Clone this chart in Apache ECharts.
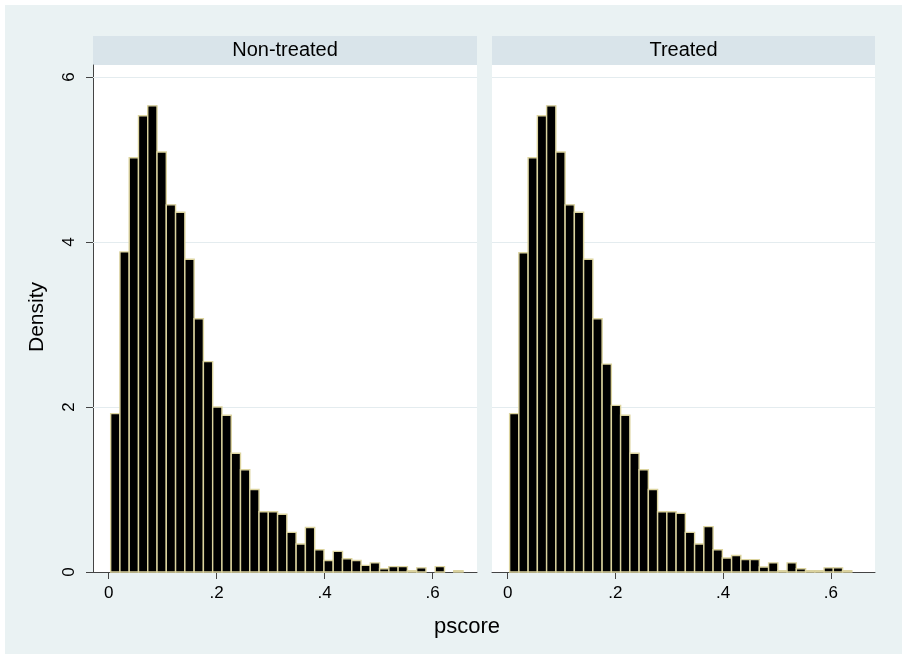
<!DOCTYPE html>
<html>
<head>
<meta charset="utf-8">
<script src="https://cdn.jsdelivr.net/npm/echarts@6/dist/echarts.min.js"></script>
<style>
  html, body { margin: 0; padding: 0; background: #ffffff; }
  #chart { width: 907px; height: 659px; }
</style>
</head>
<body>
<div id="chart"></div>
<script>
// Panel titles (one histogram per treatment group)
const panelTitles = ['Non-treated', 'Treated'];

// Histogram bins: common start and width on the pscore scale
const binStart = 0.0037;
const binWidth = 0.01717;

// Density per bin, Non-treated group
const densityNonTreated = [
  1.92, 3.88, 5.02, 5.53, 5.65, 5.09, 4.45, 4.36, 3.79, 3.07,
  2.55, 2.00, 1.90, 1.44, 1.24, 1.00, 0.73, 0.73, 0.70, 0.48,
  0.34, 0.54, 0.27, 0.14, 0.25, 0.16, 0.14, 0.08, 0.11, 0.04,
  0.065, 0.065, 0.015, 0.05, 0, 0.065, 0, 0.015
];

// Density per bin, Treated group
const densityTreated = [
  1.92, 3.87, 5.02, 5.53, 5.65, 5.09, 4.45, 4.36, 3.79, 3.07,
  2.52, 2.02, 1.90, 1.44, 1.24, 1.00, 0.73, 0.73, 0.71, 0.48,
  0.34, 0.55, 0.27, 0.17, 0.20, 0.15, 0.15, 0.06, 0.11, 0.015,
  0.11, 0.04, 0.015, 0.015, 0.05, 0.05, 0.015, 0
];

// Axis ticks and labels
const xTicks = [0, 0.2, 0.4, 0.6];
const yTicks = [0, 2, 4, 6];
const gridValues = [2, 4, 6];

const xMin = -0.029, xMax = 0.682;
const yMin = 0, yMax = 6.145;

const xTitle = 'pscore';
const yTitle = 'Density';

// Colours
const pageBg = '#eaf2f3';
const headerBg = '#d9e4ea';
const axisColor = '#444444';
const gridColor = '#e4ecef';
const barFill = '#000000';
const barEdge = '#dcd49f';
const fontFamily = 'Arial, "Liberation Sans", Helvetica, sans-serif';

// Panel geometry (pixels)
const panelTop = 65, panelHeight = 507;
const panelBoxes = [
  { left: 93, width: 384 },
  { left: 492, width: 383 }
];

function binsOf(values) {
  return values.map((d, i) => [binStart + i * binWidth, binStart + (i + 1) * binWidth, d]);
}

function renderBar(params, api) {
  const h = api.value(2);
  if (!(h > 0)) return null;
  const a = api.coord([api.value(0), 0]);
  const b = api.coord([api.value(1), h]);
  return {
    type: 'rect',
    shape: { x: a[0], y: b[1], width: b[0] - a[0], height: a[1] - b[1] },
    style: { fill: barFill, stroke: barEdge, lineWidth: 1.4 }
  };
}

function renderRule(params, api) {
  const a = api.coord([api.value(0), api.value(1)]);
  const b = api.coord([api.value(2), api.value(1)]);
  const y = Math.round(a[1]) + 0.5;
  return {
    type: 'line',
    shape: { x1: a[0], y1: y, x2: b[0], y2: y },
    style: { stroke: gridColor, lineWidth: 1 }
  };
}

const chart = echarts.init(document.getElementById('chart'), null, { renderer: 'canvas' });

const grids = panelBoxes.map(p => ({
  left: p.left, top: panelTop, width: p.width, height: panelHeight,
  show: true, backgroundColor: '#ffffff', borderWidth: 0
}));

const xAxes = panelBoxes.map((p, i) => ({
  type: 'value', gridIndex: i, min: xMin, max: xMax,
  axisLine: { show: true, onZero: false, lineStyle: { color: axisColor, width: 1 } },
  axisTick: { show: true, length: 7, customValues: xTicks, lineStyle: { color: axisColor } },
  axisLabel: {
    show: true, customValues: xTicks, margin: 13,
    fontSize: 17, fontFamily: fontFamily, color: '#000',
    formatter: v => (v === 0 ? '0' : String(v).replace(/^0\./, '.'))
  },
  splitLine: { show: false }
}));

const yAxes = panelBoxes.map((p, i) => ({
  type: 'value', gridIndex: i, min: yMin, max: yMax, show: i === 0,
  axisLine: { show: true, onZero: false, lineStyle: { color: axisColor, width: 1 } },
  axisTick: { show: true, length: 7, customValues: yTicks, lineStyle: { color: axisColor } },
  axisLabel: {
    show: true, customValues: yTicks, rotate: 90, margin: 15,
    fontSize: 17, fontFamily: fontFamily, color: '#000'
  },
  splitLine: { show: false }
}));

const series = [];
[densityNonTreated, densityTreated].forEach((vals, i) => {
  series.push({
    type: 'custom', xAxisIndex: i, yAxisIndex: i, z: 1, silent: true,
    renderItem: renderRule,
    encode: { x: [0, 2], y: 1 },
    data: gridValues.map(v => [xMin, v, xMax])
  });
  series.push({
    type: 'custom', xAxisIndex: i, yAxisIndex: i, z: 2, silent: true,
    renderItem: renderBar,
    encode: { x: [0, 1], y: 2 },
    data: binsOf(vals)
  });
});

const graphics = [
  { type: 'rect', z: -10, shape: { x: 5, y: 5, width: 897, height: 649 }, style: { fill: pageBg } }
];
panelBoxes.forEach((p, i) => {
  graphics.push({ type: 'rect', z: -5, shape: { x: p.left, y: 36, width: p.width, height: 29 }, style: { fill: headerBg } });
  graphics.push({
    type: 'text', z: 5, x: p.left + p.width / 2, y: 50.5,
    style: { text: panelTitles[i], fontSize: 20, fontFamily: fontFamily, fill: '#000', align: 'center', verticalAlign: 'middle' }
  });
});
graphics.push({
  type: 'text', z: 5, x: 467, y: 627,
  style: { text: xTitle, fontSize: 22, fontFamily: fontFamily, fill: '#000', align: 'center', verticalAlign: 'middle' }
});
graphics.push({
  type: 'text', z: 5, x: 37, y: 317, rotation: Math.PI / 2,
  style: { text: yTitle, fontSize: 21, fontFamily: fontFamily, fill: '#000', align: 'center', verticalAlign: 'middle' }
});

chart.setOption({
  backgroundColor: '#ffffff',
  animation: false,
  grid: grids,
  xAxis: xAxes,
  yAxis: yAxes,
  series: series,
  graphic: graphics
});
</script>
</body>
</html>
